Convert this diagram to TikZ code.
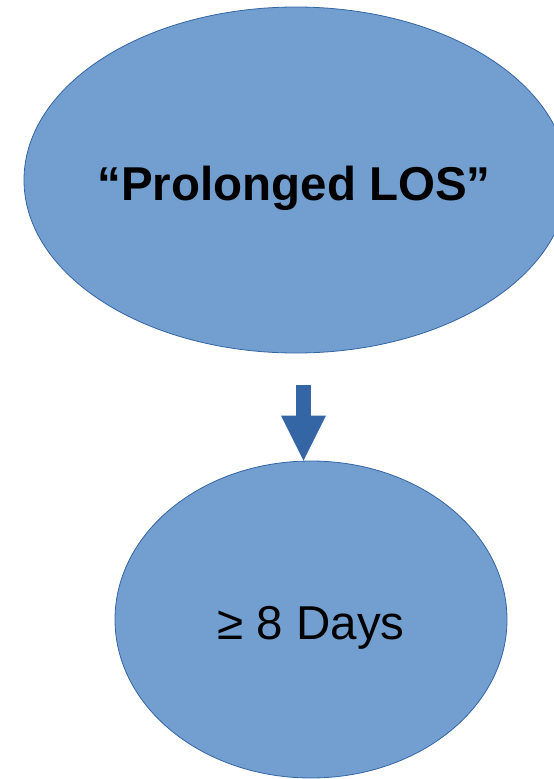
\documentclass[tikz,border=0pt]{standalone}
\usepackage{fontspec}
\setmainfont{Liberation Sans}
\usetikzlibrary{shapes.geometric,arrows.meta}
\definecolor{shapefill}{HTML}{729FCF}
\definecolor{shapeline}{HTML}{3465A4}
\tikzset{
  oval/.style={ellipse, fill=shapefill, draw=shapeline, line width=0.8pt, inner sep=0pt},
  bigtext/.style={anchor=base, inner sep=0pt, font=\fontsize{47.5}{52}\selectfont\bfseries},
  daytext/.style={anchor=base, inner sep=0pt, font=\fontsize{47.5}{52}\selectfont},
  blockarrow/.style={draw=shapeline, line width=15pt, -{Triangle[width=45pt,length=45pt,line width=0pt]}}
}
\begin{document}
\begin{tikzpicture}[x=1pt,y=-1pt]
\useasboundingbox (0,0) rectangle (554,779);
\node[oval, minimum width=544pt, minimum height=346pt] (top) at (296,180) {};
\node[oval, minimum width=392pt, minimum height=317pt] (bot) at (311,619.5) {};
\node[bigtext] (t1) at (294,200) {“Prolonged LOS”};
\node[daytext] (t2) at (311,639) {≥ 8 Days};
\coordinate (as) at (303.5,385);
\draw[blockarrow] (as) -- (as |- bot.north);
\end{tikzpicture}
\end{document}
